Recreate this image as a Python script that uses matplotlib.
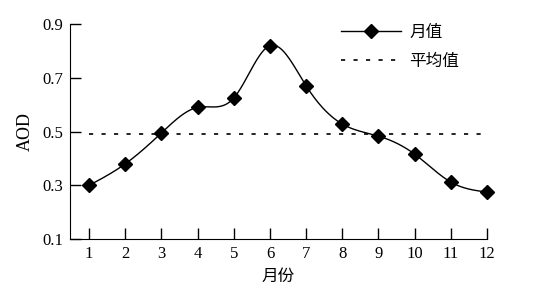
import numpy as np
import matplotlib
matplotlib.use("Agg")
import matplotlib.pyplot as plt
from matplotlib.lines import Line2D

months = [1, 2, 3, 4, 5, 6, 7, 8, 9, 10, 11, 12]
aod = [0.30, 0.38, 0.495, 0.59, 0.625, 0.82, 0.67, 0.528, 0.483, 0.416, 0.312, 0.275]
mean_label = "平均值"
series_label = "月值"
y_ticks = [0.1, 0.3, 0.5, 0.7, 0.9]

plt.rcParams['font.family'] = ['Liberation Serif', 'Noto Sans CJK SC']

def natural_spline(x, y, n=400):
    x = np.asarray(x, float); y = np.asarray(y, float)
    k = len(x); h = np.diff(x)
    A = np.zeros((k, k)); b = np.zeros(k)
    A[0, 0] = A[-1, -1] = 1
    for i in range(1, k - 1):
        A[i, i - 1] = h[i - 1]; A[i, i] = 2 * (h[i - 1] + h[i]); A[i, i + 1] = h[i]
        b[i] = 3 * ((y[i + 1] - y[i]) / h[i] - (y[i] - y[i - 1]) / h[i - 1])
    c = np.linalg.solve(A, b)
    xs = np.linspace(x[0], x[-1], n); ys = np.empty_like(xs)
    for j, xv in enumerate(xs):
        i = min(np.searchsorted(x, xv, side='right') - 1, k - 2)
        dx = xv - x[i]
        bi = (y[i + 1] - y[i]) / h[i] - h[i] * (2 * c[i] + c[i + 1]) / 3
        di = (c[i + 1] - c[i]) / (3 * h[i])
        ys[j] = y[i] + bi * dx + c[i] * dx ** 2 + di * dx ** 3
    return xs, ys

fig = plt.figure(figsize=(5.34, 2.97), dpi=100)
ax = fig.add_axes([0.131, 0.195, 0.781, 0.724])

xs, ys = natural_spline(months, aod)
ax.plot(xs, ys, color='black', lw=1.0)
ax.plot(months, aod, ls='none', marker='D', ms=7.5, color='black', clip_on=False, zorder=5)
mean_val = float(np.mean(aod))
ax.plot([months[0], months[-1]], [mean_val, mean_val], color='black', lw=1.2,
        linestyle=(0, (2.5, 5)))

ax.set_xlim(0.47, 12)
ax.set_ylim(0.1, 0.9)
ax.set_xticks(months)
ax.set_yticks(y_ticks)
ax.set_yticklabels([f"{v:.1f}" for v in y_ticks])
ax.spines['top'].set_visible(False)
ax.spines['right'].set_visible(False)
ax.tick_params(direction='in', length=8, width=1, labelsize=12, pad=5)
ax.set_ylabel("AOD", fontsize=13, labelpad=6)
ax.set_xlabel("月份", fontsize=12, labelpad=5)

handles = [Line2D([], [], color='black', lw=1.0, marker='D', ms=7.5),
           Line2D([], [], color='black', lw=1.2, linestyle=(0, (2.5, 5)))]
ax.legend(handles, [series_label, mean_label], loc='upper right',
          bbox_to_anchor=(0.97, 1.065), frameon=False, fontsize=12,
          handlelength=3.6, handletextpad=0.5, labelspacing=0.75)

fig.savefig("out.png", dpi=100)
